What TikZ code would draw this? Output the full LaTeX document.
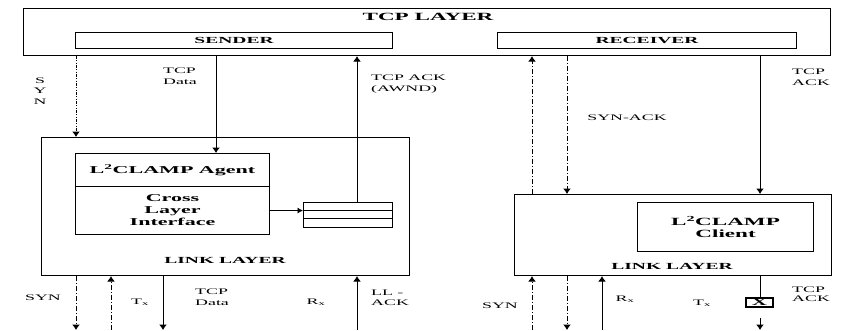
\documentclass[tikz,border=0pt]{standalone}
\usepackage{fontspec}
\setmainfont[FakeStretch=2.1]{Liberation Serif}
\usetikzlibrary{arrows.meta}

\begin{document}
\begin{tikzpicture}[x=1pt, y=-1pt,
        box/.style={draw, line width=1.1pt, inner sep=0pt, anchor=north west},
        lbl/.style={font=\fontsize{8.5}{10.5}\selectfont, align=left, inner sep=0pt},
        ttl/.style={font=\fontsize{9.3}{11}\selectfont\bfseries, inner sep=0pt},
        big/.style={font=\fontsize{10.5}{12}\selectfont\bfseries, align=center, inner sep=0pt},
        arr/.style={line width=1pt, -{Latex[length=5.5pt, width=8pt]}},
        dashdot/.style={dash pattern=on 5pt off 2pt on 1pt off 2pt},
        dashdotdot/.style={dash pattern=on 2.5pt off 1.5pt on 1pt off 1.5pt on 1pt off 1.5pt}]
        \useasboundingbox (0,0) rectangle (866,330);

        % TCP layer with sender and receiver
        \node[box, minimum width=807pt, minimum height=47pt] (tcp) at (23,8) {};
        \node[ttl, font=\fontsize{11}{12}\selectfont\bfseries] (tcptitle) at (428,17) {TCP LAYER};
        \node[box, minimum width=317pt, minimum height=16pt] (sender) at (75,32) {};
        \node[ttl] at (sender.center) {SENDER};
        \node[box, minimum width=299pt, minimum height=16pt] (receiver) at (497,32) {};
        \node[ttl] at (receiver.center) {RECEIVER};

        % Link layer, sender side
        \node[box, minimum width=368pt, minimum height=138pt] (llL) at (41,137) {};
        \node[ttl] (llLtitle) at (225,260) {LINK LAYER};
        \node[box, minimum width=194pt, minimum height=33pt] (agent) at (75,153) {};
        \node[big] at (agent.center) {L\textsuperscript{2}CLAMP Agent};
        \node[box, minimum width=194pt, minimum height=48pt] (iface) at (75,186) {};
        \node[big] at (iface.center) {Cross\\Layer\\Interface};
        \node[box, line width=0.9pt, minimum width=89pt, minimum height=25pt] (queue) at (303,202) {};
        \draw[line width=0.9pt] ([yshift=-8pt]queue.north west) -- ([yshift=-8pt]queue.north east);
        \draw[line width=0.9pt] ([yshift=-16pt]queue.north west) -- ([yshift=-16pt]queue.north east);
        \draw[line width=0.8pt, -{Latex[length=5.5pt, width=6pt]}] (iface.east) -- (iface.east -| queue.west);

        % Link layer, receiver side
        \node[box, minimum width=317pt, minimum height=81pt] (llR) at (514,194) {};
        \node[ttl] (llRtitle) at (672,266) {LINK LAYER};
        \node[box, minimum width=176pt, minimum height=49pt] (client) at (637,202) {};
        \node[big, font=\fontsize{11}{12}\selectfont\bfseries] at (client.center) {L\textsuperscript{2}CLAMP\\Client};

        % x positions of the lines and the lower edge
        \coordinate (xsynL) at (76,0);
        \coordinate (xtxL) at (111,0);
        \coordinate (xtdL) at (163,0);
        \coordinate (xdataL) at (216,0);
        \coordinate (xackL) at (357,0);
        \coordinate (xsynR) at (532,0);
        \coordinate (xsaR) at (567,0);
        \coordinate (xrxR) at (602,0);
        \coordinate (xackR) at (760,0);
        \coordinate (bot) at (0,330);

        % Between TCP layer and link layer
        \draw[arr, dashdotdot] (tcp.south -| xsynL) -- (llL.north -| xsynL);
        \node[lbl, align=center] at (40,91) {S\\Y\\N};
        \draw[arr] (tcp.south -| xdataL) -- (agent.north -| xdataL);
        \node[lbl] at (180,76) {TCP\\Data};
        \draw[arr] (queue.north -| xackL) -- (tcp.south -| xackL);
        \node[lbl, anchor=west] at (371,84) {TCP ACK\\(AWND)};
        \draw[arr, dashdot] (llR.north -| xsynR) -- (tcp.south -| xsynR);
        \draw[arr, dashdot] (tcp.south -| xsaR) -- (llR.north -| xsaR);
        \node[lbl] at (627,118) {SYN-ACK};
        \draw[arr] (tcp.south -| xackR) -- (llR.north -| xackR);
        \node[lbl, anchor=west] at (792,77) {TCP\\ACK};

        % Below the link layer, sender side
        \draw[arr, dashdot] (llL.south -| xsynL) -- (xsynL |- bot);
        \node[lbl] at (43,298) {SYN};
        \draw[arr, dashdot] (xtxL |- bot) -- (llL.south -| xtxL);
        \node[lbl] at (140,302) {T\textsubscript{x}};
        \draw[arr] (llL.south -| xtdL) -- (xtdL |- bot);
        \node[lbl, anchor=west] at (195,297) {TCP\\Data};
        \node[lbl] at (316,302) {R\textsubscript{x}};
        \draw[arr] (xackL |- bot) -- (llL.south -| xackL);
        \node[lbl, anchor=west] at (371,298) {LL -\\ACK};

        % Below the link layer, receiver side
        \draw[arr, dashdot] (xsynR |- bot) -- (llR.south -| xsynR);
        \node[lbl] at (500,306) {SYN};
        \draw[arr, dashdot] (llR.south -| xsaR) -- (xsaR |- bot);
        \draw[arr] (xrxR |- bot) -- (llR.south -| xrxR);
        \node[lbl] at (625,299) {R\textsubscript{x}};
        \node[lbl] at (702,303) {T\textsubscript{x}};
        \node[draw, line width=1.2pt, minimum width=27pt, minimum height=9pt, inner sep=0pt,
              font=\fontsize{10}{10}\selectfont\bfseries] (drop) at (759.5,302.5) {X};
        \draw[line width=1pt] (llR.south -| xackR) -- (drop.north -| xackR);
        \draw[arr] ([yshift=-10pt]drop.south -| xackR) -- (xackR |- bot);
        \node[lbl, font=\fontsize{8.5}{9}\selectfont, anchor=west] at (792,294) {TCP\\ACK};
    \end{tikzpicture}
\end{document}
